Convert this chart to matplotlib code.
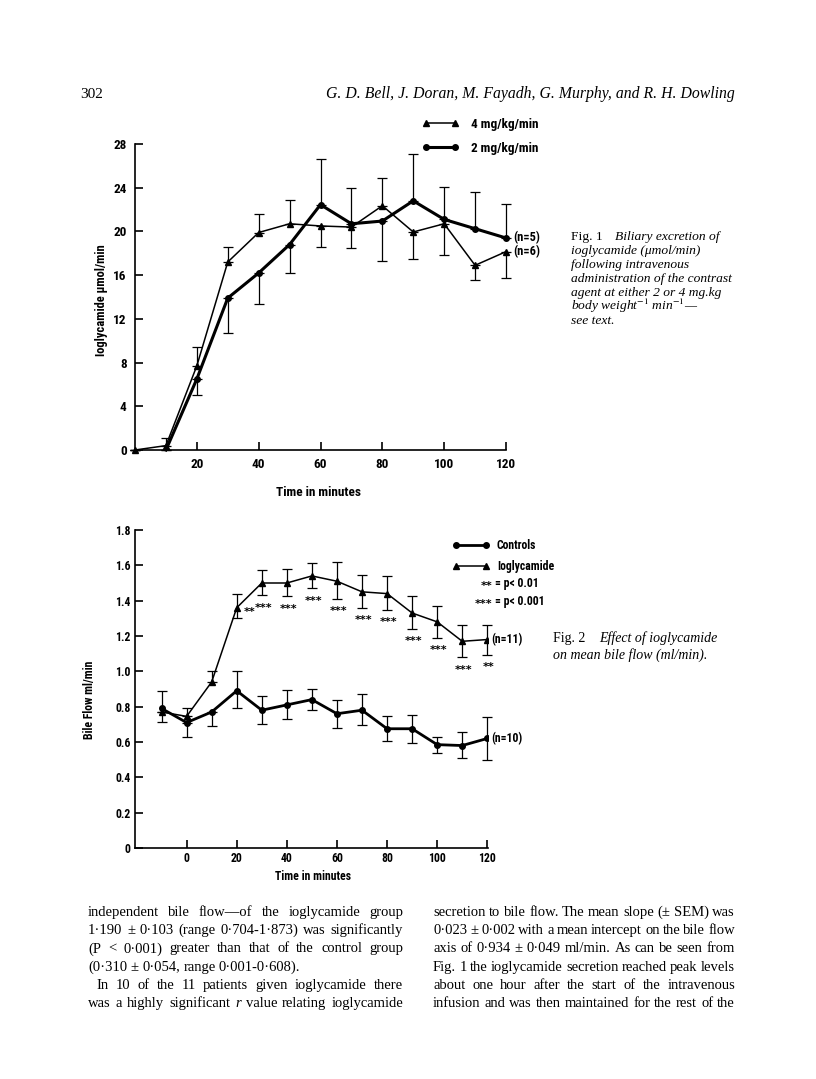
import matplotlib
matplotlib.use("Agg")
import numpy as np
import matplotlib.pyplot as plt
from matplotlib import font_manager

# ---- Fig. 1 data: biliary excretion (umol/min) ----
t1 = [0, 10, 20, 30, 40, 50, 60, 70, 80, 90, 100, 110, 120]
mg4 = [0, 0.4, 7.7, 17.2, 19.9, 20.7, 20.5, 20.4, 22.35, 19.95, 20.7, 16.9, 18.15]
mg4_sem = [0, 0.7, 1.7, 1.4, 1.7, 2.2, 1.9, 1.9, 2.5, 2.5, 2.85, 1.35, 2.45]
mg4_dir = [1, 1, 1, 1, 1, 1, -1, -1, 1, -1, -1, -1, -1]
mg2 = [0, 0, 6.5, 13.9, 16.2, 18.8, 22.45, 20.7, 20.95, 22.8, 21.1, 20.25, 19.4]
mg2_sem = [0, 0, 1.5, 3.2, 2.8, 2.6, 4.15, 3.3, 3.7, 4.25, 2.96, 3.35, 3.1]
mg2_dir = [1, 1, -1, -1, -1, -1, 1, 1, -1, 1, 1, 1, 1]

# ---- Fig. 2 data: bile flow (ml/min) ----
t2 = [-10, 0, 10, 20, 30, 40, 50, 60, 70, 80, 90, 100, 110, 120]
io = [0.77, 0.745, 0.94, 1.36, 1.50, 1.50, 1.54, 1.51, 1.45, 1.44, 1.33, 1.28, 1.17, 1.18]
io_lo = [0, 0, 0, 0.06, 0.07, 0.075, 0.07, 0.10, 0.09, 0.09, 0.09, 0.09, 0.09, 0.085]
io_hi = [0, 0.045, 0.06, 0.08, 0.075, 0.08, 0.075, 0.11, 0.095, 0.10, 0.095, 0.09, 0.09, 0.085]
io_sig = ["", "", "", "**", "***", "***", "***", "***", "***", "***", "***", "***", "***", "**"]
ctl = [0.79, 0.71, 0.77, 0.89, 0.78, 0.81, 0.84, 0.76, 0.78, 0.675, 0.675, 0.585, 0.58, 0.62]
ctl_lo = [0.075, 0.08, 0.08, 0.10, 0.08, 0.08, 0.06, 0.08, 0.085, 0.07, 0.08, 0.05, 0.07, 0.12]
ctl_hi = [0.10, 0, 0, 0.11, 0.08, 0.085, 0.06, 0.08, 0.09, 0.07, 0.08, 0.045, 0.075, 0.12]

W, H = 816, 1079
names = {f.name for f in font_manager.fontManager.ttflist}
SANS = "DejaVu Sans"
for cand in ["Liberation Sans Narrow", "Roboto Condensed", "Open Sans Condensed", "Roboto"]:
    if cand in names:
        SANS = cand
        break
SERIF = "Liberation Serif"
plt.rcParams["mathtext.fontset"] = "stix"

fig = plt.figure(figsize=(W / 100, H / 100), dpi=100)
fig.patch.set_facecolor("white")


def px(x, y):
    return x / W, 1 - y / H


def style_axes(ax, fs, pad):
    for s in ["top", "right"]:
        ax.spines[s].set_visible(False)
    for s in ["left", "bottom"]:
        ax.spines[s].set_linewidth(1.2)
    ax.tick_params(direction="in", length=6, width=1.2, labelsize=fs, pad=pad)
    for lab in ax.get_xticklabels() + ax.get_yticklabels():
        lab.set_fontfamily(SANS)
        lab.set_fontweight("bold")


def errbars(ax, x, y, lo, hi):
    eb = ax.errorbar(x, y, yerr=[lo, hi], fmt="none", ecolor="black",
                     elinewidth=0.9, capsize=3.5, capthick=0.9)
    for part in eb.lines[1] + eb.lines[2]:
        part.set_clip_on(False)


# ================= Fig. 1 =================
ax1 = fig.add_axes([135 / W, 1 - 450 / H, 371 / W, 306 / H])
ax1.set_xlim(0, 120)
ax1.set_ylim(0, 28)

y4 = np.array(mg4)
e4 = np.array(mg4_sem)
d4 = np.array(mg4_dir)
y2 = np.array(mg2)
e2 = np.array(mg2_sem)
d2 = np.array(mg2_dir)

errbars(ax1, t1, y4, e4 * (d4 < 0), e4 * (d4 > 0))
errbars(ax1, t1, y2, e2 * (d2 < 0), e2 * (d2 > 0))
l4, = ax1.plot(t1, mg4, color="black", lw=1.1, marker="^", ms=5, label="4 mg/kg/min")
l2, = ax1.plot(t1[1:], mg2[1:], color="black", lw=2.2, marker="o", ms=4,
               markevery=list(range(1, len(t1) - 1)), label="2 mg/kg/min")
for a in (l4, l2):
    a.set_clip_on(False)

ax1.set_xticks([20, 40, 60, 80, 100, 120])
ax1.set_yticks(range(0, 29, 4))
style_axes(ax1, 9.5, 6)

ax1.annotate("(n=5)", (120, mg2[-1]), xytext=(5, 0), textcoords="offset points",
             va="center", fontsize=9, fontfamily=SANS, fontweight="bold")
ax1.annotate("(n=6)", (120, mg4[-1]), xytext=(5, 0), textcoords="offset points",
             va="center", fontsize=9, fontfamily=SANS, fontweight="bold")

fig.text(*px(318, 492), "Time in minutes", ha="center", va="center",
         fontsize=9.5, fontfamily=SANS, fontweight="bold")
fig.text(*px(102, 300), "Ioglycamide μmol/min", ha="center", va="center",
         rotation=90, fontsize=9, fontfamily=SANS, fontweight="bold")

leg_h2, = ax1.plot([], [], color="black", lw=2.2, marker="o", ms=4)
fig.legend(handles=[l4, leg_h2], labels=["4 mg/kg/min", "2 mg/kg/min"],
           loc="upper left", bbox_to_anchor=px(422, 118),
           frameon=False, numpoints=2, handlelength=2.8, handletextpad=0.9,
           labelspacing=0.8, borderpad=0, borderaxespad=0,
           prop={"family": SANS, "weight": "bold", "size": 9.5})

CAP = 9.7
fig.text(*px(571, 240), "Fig. 1", fontsize=CAP, fontfamily=SERIF, va="baseline")
cap1 = ["Biliary excretion of",
        "ioglycamide (μmol/min)",
        "following intravenous",
        "administration of the contrast",
        "agent at either 2 or 4 mg.kg",
        "body weight$^{-1}$ min$^{-1}$—",
        "see text."]
fig.text(*px(615, 240), cap1[0], fontsize=CAP, fontfamily=SERIF, style="italic", va="baseline")
for i, s in enumerate(cap1[1:]):
    fig.text(*px(571, 254 + 14 * i), s, fontsize=CAP, fontfamily=SERIF,
             style="italic", va="baseline")

# ================= Fig. 2 =================
ax2 = fig.add_axes([135 / W, 1 - 848 / H, 353.3 / W, 318 / H])
ax2.set_xlim(-20.6, 120.4)
ax2.set_ylim(0, 1.8)

errbars(ax2, t2, io, io_lo, io_hi)
errbars(ax2, t2, ctl, ctl_lo, ctl_hi)
lc, = ax2.plot(t2, ctl, color="black", lw=2.0, marker="o", ms=4, label="Controls")
li, = ax2.plot(t2, io, color="black", lw=1.1, marker="^", ms=4.5, label="Ioglycamide")

for x, y, lo, s in zip(t2, io, io_lo, io_sig):
    if not s:
        continue
    if x == 20:
        ax2.annotate(s, (x, y), xytext=(5, -3), textcoords="offset points",
                     ha="left", va="center", fontsize=8, fontweight="bold")
    else:
        ax2.annotate(s, (x, y - lo), xytext=(1, -9), textcoords="offset points",
                     ha="center", va="center", fontsize=8, fontweight="bold")

ax2.set_xticks([0, 20, 40, 60, 80, 100, 120])
ax2.set_yticks([0, 0.2, 0.4, 0.6, 0.8, 1.0, 1.2, 1.4, 1.6, 1.8])
ax2.set_yticklabels(["0", "0.2", "0.4", "0.6", "0.8", "1.0", "1.2", "1.4", "1.6", "1.8"])
style_axes(ax2, 8.5, 3)

ax2.annotate("(n=11)", (120, io[-1]), xytext=(3, 0), textcoords="offset points",
             va="center", fontsize=8.5, fontfamily=SANS, fontweight="bold")
ax2.annotate("(n=10)", (120, ctl[-1]), xytext=(3, 0), textcoords="offset points",
             va="center", fontsize=8.5, fontfamily=SANS, fontweight="bold")

fig.text(*px(313, 877), "Time in minutes", ha="center", va="center",
         fontsize=8.5, fontfamily=SANS, fontweight="bold")
fig.text(*px(90, 700), "Bile Flow ml/min", ha="center", va="center",
         rotation=90, fontsize=8.5, fontfamily=SANS, fontweight="bold")

fig.legend(handles=[lc, li], loc="upper left", bbox_to_anchor=px(452, 539),
           frameon=False, numpoints=2, handlelength=3.2, handletextpad=0.6,
           labelspacing=0.65, borderpad=0, borderaxespad=0,
           prop={"family": SANS, "weight": "bold", "size": 8.5})
fig.text(*px(492, 586), "**", ha="right", va="center", fontsize=8, fontweight="bold")
fig.text(*px(495, 583), "= p< 0.01", ha="left", va="center", fontsize=8.5,
         fontfamily=SANS, fontweight="bold")
fig.text(*px(492, 604), "***", ha="right", va="center", fontsize=8, fontweight="bold")
fig.text(*px(495, 601), "= p< 0.001", ha="left", va="center", fontsize=8.5,
         fontfamily=SANS, fontweight="bold")

fig.text(*px(553, 642), "Fig. 2", fontsize=10, fontfamily=SERIF, va="baseline")
fig.text(*px(599, 642), "Effect of ioglycamide", fontsize=10, fontfamily=SERIF,
         style="italic", va="baseline")
fig.text(*px(553, 659), "on mean bile flow (ml/min).", fontsize=10, fontfamily=SERIF,
         style="italic", va="baseline")

# ================= page text =================
fig.text(*px(80, 98), "302", fontsize=11, fontfamily=SERIF, va="baseline")
fig.text(*px(735, 98), "G. D. Bell, J. Doran, M. Fayadh, G. Murphy, and R. H. Dowling",
         ha="right", fontsize=11.3, fontfamily=SERIF, style="italic", va="baseline")

renderer = fig.canvas.get_renderer()


def make_words(line, size):
    items = []
    for w in line.split(" "):
        st = "normal"
        if w.startswith("_") and w.endswith("_"):
            w, st = w.strip("_"), "italic"
        items.append(fig.text(0, 0, w, fontsize=size, fontfamily=SERIF, style=st,
                              va="baseline"))
    widths = [t.get_window_extent(renderer).width for t in items]
    return items, widths


def fit_size(line, width, size=11.6, min_gap=3.0):
    while size > 9:
        items, widths = make_words(line, size)
        for t in items:
            t.remove()
        if (width - sum(widths)) / max(len(items) - 1, 1) >= min_gap:
            return size
        size -= 0.1
    return size


def justify(line, x0, x1, y, size, last=False):
    items, widths = make_words(line, size)
    gap = size * 0.33 if last else (x1 - x0 - sum(widths)) / max(len(items) - 1, 1)
    x = x0
    for t, w in zip(items, widths):
        t.set_position(px(x, y))
        x += w + gap


left = ["independent bile flow—of the ioglycamide group",
        "1·190 ± 0·103 (range 0·704-1·873) was significantly",
        "(P < 0·001) greater than that of the control group",
        "(0·310 ± 0·054, range 0·001-0·608).",
        "In 10 of the 11 patients given ioglycamide there",
        "was a highly significant _r_ value relating ioglycamide"]
right = ["secretion to bile flow. The mean slope (± SEM) was",
         "0·023 ± 0·002 with a mean intercept on the bile flow",
         "axis of 0·934 ± 0·049 ml/min. As can be seen from",
         "Fig. 1 the ioglycamide secretion reached peak levels",
         "about one hour after the start of the intravenous",
         "infusion and was then maintained for the rest of the"]

body = min([fit_size(s, 403 - (96 if i == 4 else 88)) for i, s in enumerate(left) if i != 3] +
           [fit_size(s, 735 - 433) for s in right])

for i, s in enumerate(left):
    x0 = 96 if i == 4 else 88
    justify(s, x0, 403, 916 + 18.2 * i, body, last=(i == 3))
for i, s in enumerate(right):
    justify(s, 433, 735, 916 + 18.2 * i, body)

fig.savefig("out.png", dpi=100, facecolor="white")
